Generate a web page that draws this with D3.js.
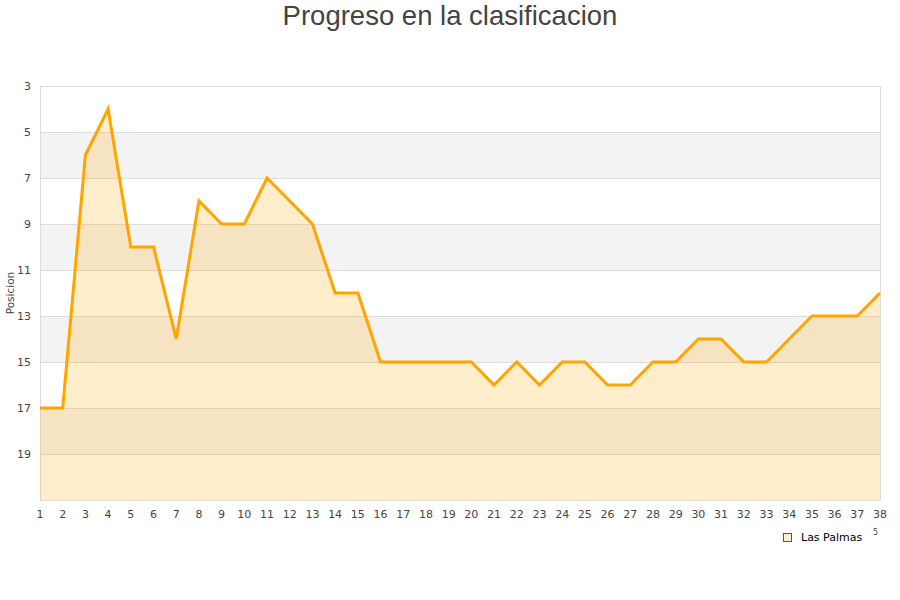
<!DOCTYPE html>
<html><head><meta charset="utf-8">
<script src="https://cdn.jsdelivr.net/npm/d3@7"></script>
<style>body{margin:0;background:#fff}svg{display:block}</style>
</head><body>
<svg id="chart" width="900" height="600"></svg>
<script>
const jornadas = d3.range(1, 39);
const posiciones = [17,17,6,4,10,10,14,8,9,9,7,8,9,12,12,15,15,15,15,15,16,15,16,15,15,16,16,15,15,14,14,15,15,14,13,13,13,12];
const yTicks = [3,5,7,9,11,13,15,17,19];
const seriesName = "Las Palmas";
const titleText = "Progreso en la clasificacion";
const yLabel = "Posicion";

const svg = d3.select("#chart");
const m = {l:40, r:880, t:86, b:500};
const x = d3.scaleLinear().domain([1,38]).range([m.l, m.r]);
const y = d3.scaleLinear().domain([3,21]).range([m.t, m.b]);

// bands
const bands = [[5,7],[9,11],[13,15],[17,19]];
svg.selectAll("rect.band").data(bands).enter().append("rect")
  .attr("x", m.l).attr("width", m.r-m.l)
  .attr("y", d=>y(d[0])).attr("height", d=>y(d[1])-y(d[0]))
  .attr("fill", "#f3f3f3");
// grid
svg.selectAll("line.grid").data(yTicks.concat([21])).enter().append("line")
  .attr("x1", m.l).attr("x2", m.r)
  .attr("y1", d=>y(d)+0.5).attr("y2", d=>y(d)+0.5)
  .attr("stroke", "#dddddd").attr("stroke-width", 1);
svg.append("rect").attr("x", m.l+0.5).attr("y", m.t+0.5)
  .attr("width", m.r-m.l).attr("height", m.b-m.t)
  .attr("fill","none").attr("stroke","#dddddd");

const data = jornadas.map((j,i)=>({j, p: posiciones[i]}));
svg.append("path").datum(data)
  .attr("d", d3.area().x(d=>x(d.j)).y0(y(21)).y1(d=>y(d.p)))
  .attr("fill", "#ffa500").attr("fill-opacity", 0.2);
svg.append("path").datum(data)
  .attr("d", d3.line().x(d=>x(d.j)).y(d=>y(d.p)))
  .attr("fill", "none").attr("stroke", "#ffa500").attr("stroke-width", 3)
  .attr("stroke-linejoin", "miter");

// y ticks labels
svg.selectAll("text.yt").data(yTicks).enter().append("text")
  .attr("x", 31).attr("y", d=>y(d)+4).attr("text-anchor","end")
  .attr("font-family","DejaVu Sans").attr("font-size", 11).attr("fill","#444")
  .text(d=>d);
// x ticks labels
svg.selectAll("text.xt").data(jornadas).enter().append("text")
  .attr("x", d=>x(d)).attr("y", 518).attr("text-anchor","middle")
  .attr("font-family","DejaVu Sans").attr("font-size", 11).attr("fill","#444")
  .text(d=>d);

svg.append("text").attr("transform","translate(14,293) rotate(-90)")
  .attr("text-anchor","middle").attr("font-family","DejaVu Sans")
  .attr("font-size",10.5).attr("fill","#444").text(yLabel);

svg.append("text").attr("x",450).attr("y",25).attr("text-anchor","middle")
  .attr("font-family","Liberation Sans").attr("font-size",27.5).attr("fill","#444")
  .text(titleText);

// legend
svg.append("rect").attr("x",783.5).attr("y",533.5).attr("width",8).attr("height",8)
  .attr("fill","#ffedcc").attr("stroke","#555");
svg.append("text").attr("x",801).attr("y",541).attr("font-family","DejaVu Sans")
  .attr("font-size",11).attr("fill","#000").text(seriesName);
svg.append("text").attr("x",873).attr("y",535).attr("font-family","DejaVu Sans")
  .attr("font-size",8).attr("fill","#444").text("5");
</script>
</body></html>
